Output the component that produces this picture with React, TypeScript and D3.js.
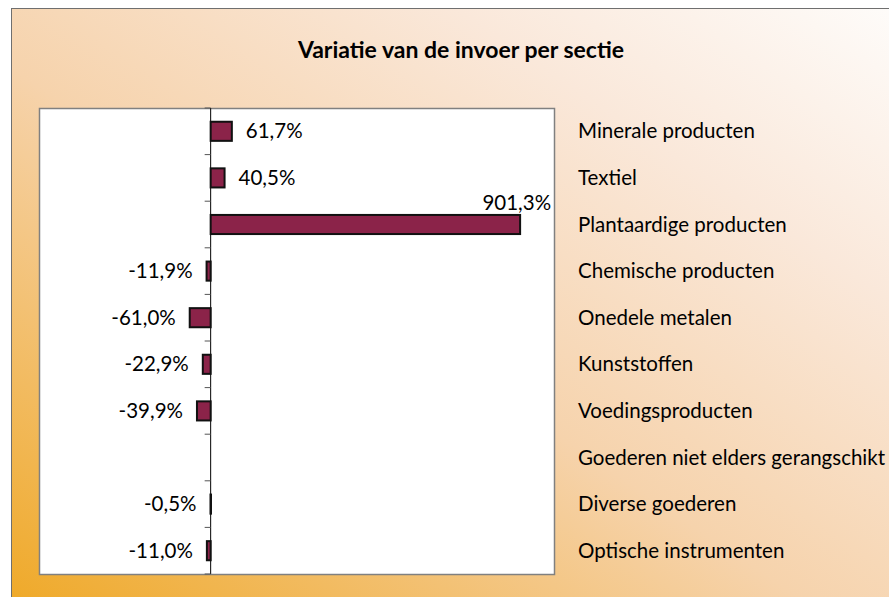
import React from "react";
import * as d3 from "d3";

const categories = [
  "Minerale producten",
  "Textiel",
  "Plantaardige producten",
  "Chemische producten",
  "Onedele metalen",
  "Kunststoffen",
  "Voedingsproducten",
  "Goederen niet elders gerangschikt",
  "Diverse goederen",
  "Optische instrumenten",
];
const values: (number | null)[] = [61.7, 40.5, 901.3, -11.9, -61.0, -22.9, -39.9, null, -0.5, -11.0];
const title = "Variatie van de invoer per sectie";

const W = 889;
const H = 597;
const plot = { left: 39, top: 108, right: 554, bottom: 574 };
const FONT = "Lato, 'Open Sans', sans-serif";
const FS = 20.5;

const fmt = (v: number) => v.toFixed(1).replace(".", ",") + "%";

export default function App() {
  // scales
  const x = d3.scaleLinear().domain([-500, 1000]).range([plot.left, plot.right]);
  const y = d3.scaleBand().domain(categories).range([plot.top, plot.bottom]);
  const barH = y.bandwidth() * 0.41;
  const x0 = x(0);

  const boundaries = d3.range(categories.length + 1).map((i) => plot.top + i * y.step());

  return (
    <svg width={W} height={H} style={{ position: "absolute", left: 0, top: 0 }}>
      <defs>
        <linearGradient id="bg" x1="0" y1="1" x2="1" y2="0">
          <stop offset="0" stopColor="#efa928" />
          <stop offset="0.45" stopColor="#f6d3ac" />
          <stop offset="0.75" stopColor="#fae8da" />
          <stop offset="1" stopColor="#fefcfa" />
        </linearGradient>
      </defs>
      <rect x={11.5} y={8.5} width={W} height={H} fill="url(#bg)" stroke="#6f6f6f" strokeWidth={1} />
      <text x={461} y={58} textAnchor="middle" fontFamily={FONT} fontWeight="bold" fontSize={23} fill="#000">
        {title}
      </text>

      {/* plot area */}
      <rect
        x={plot.left + 0.5}
        y={plot.top + 0.5}
        width={plot.right - plot.left}
        height={plot.bottom - plot.top}
        fill="#fff"
        stroke="#808080"
        strokeWidth={1.5}
      />

      {/* axis */}
      <line x1={x0} x2={x0} y1={plot.top} y2={plot.bottom} stroke="#000" strokeWidth={1} />
      {boundaries.map((b, i) => (
        <line key={i} x1={x0 - 6} x2={x0} y1={b} y2={b} stroke="#555" strokeWidth={1} />
      ))}

      {/* bars */}
      {categories.map((c, i) => {
        const v = values[i];
        if (v == null) return null;
        const cy = (y(c) ?? 0) + y.bandwidth() / 2;
        const x1 = Math.min(x(v), x0);
        const x2 = Math.max(x(v), x0);
        return (
          <rect
            key={c}
            x={x1}
            y={cy - barH / 2}
            width={Math.max(x2 - x1, 0.5)}
            height={barH}
            fill="#8b2349"
            stroke="#111"
            strokeWidth={2}
          />
        );
      })}

      {/* value labels */}
      {categories.map((c, i) => {
        const v = values[i];
        if (v == null) return null;
        const cy = (y(c) ?? 0) + y.bandwidth() / 2;
        let tx = v >= 0 ? x(v) + 14 : x(v) - 14;
        let ty = cy + 7;
        let anchor = v >= 0 ? "start" : "end";
        if (v > 500) {
          tx = x(v) + 31;
          ty = cy - 15;
          anchor = "end";
        }
        return (
          <text key={c} x={tx} y={ty} textAnchor={anchor} fontFamily={FONT} fontSize={FS} fill="#000">
            {fmt(v)}
          </text>
        );
      })}

      {/* category labels */}
      {categories.map((c) => (
        <text
          key={c}
          x={578}
          y={(y(c) ?? 0) + y.bandwidth() / 2 + 7}
          fontFamily={FONT}
          fontSize={FS}
          fill="#000"
        >
          {c}
        </text>
      ))}
    </svg>
  );
}
